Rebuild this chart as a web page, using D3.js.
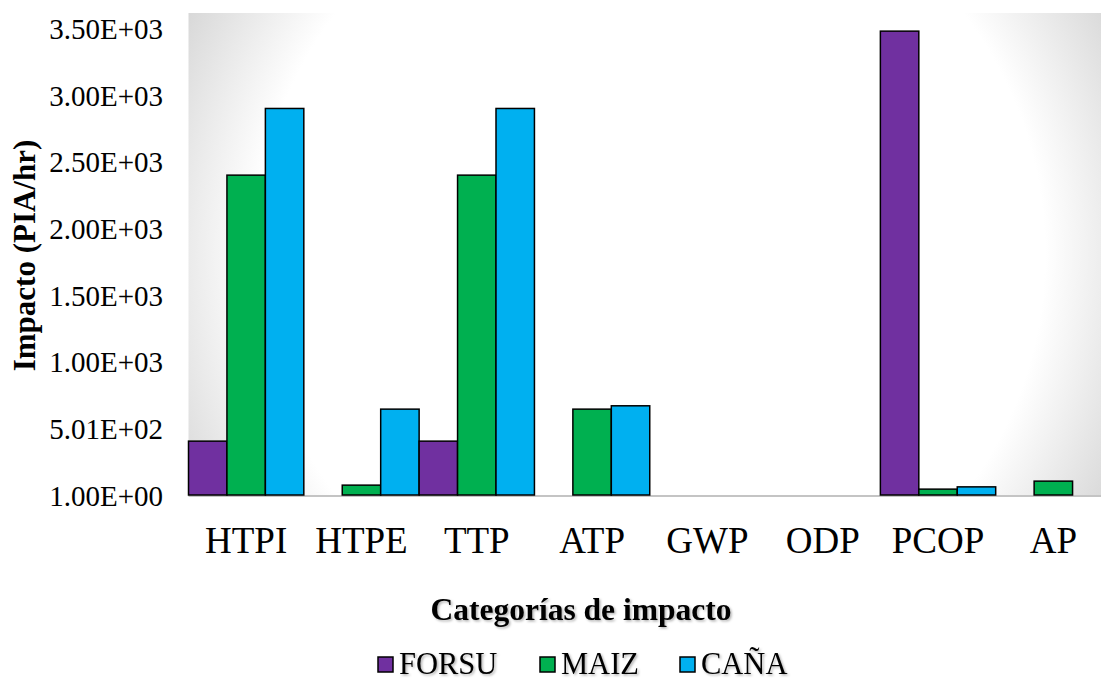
<!DOCTYPE html>
<html>
<head>
<meta charset="utf-8">
<script src="https://cdn.jsdelivr.net/npm/d3@7"></script>
<style>
  html, body { margin: 0; padding: 0; background: #fff; overflow: hidden; }
  svg { display: block; }
  text { font-family: "Liberation Serif", "Times New Roman", serif; fill: #000; }
</style>
</head>
<body>
<svg id="chart" width="1101" height="680"></svg>
<script>
// ---- data ----
const categories = ["HTPI", "HTPE", "TTP", "ATP", "GWP", "ODP", "PCOP", "AP"];
const seriesNames = ["FORSU", "MAIZ", "CAÑA"];
const seriesColors = ["#7030A0", "#00B050", "#00B0F0"];
const forsuValues = [405, 0, 405, 0, 0, 0, 3480, 0];
const maizValues  = [2400, 75, 2400, 645, 0, 0, 45, 105];
const canaValues  = [2900, 645, 2900, 670, 0, 0, 62, 0];
const yTickValues = [1, 501, 1001, 1501, 2001, 2501, 3001, 3501];
const yTickLabels = ["1.00E+00", "5.01E+02", "1.00E+03", "1.50E+03", "2.00E+03", "2.50E+03", "3.00E+03", "3.50E+03"];
const yTitle = "Impacto (PIA/hr)";
const xTitle = "Categorías de impacto";

const seriesValues = [forsuValues, maizValues, canaValues];

// ---- layout ----
const svg = d3.select("#chart");
const plot = { left: 188.5, right: 1111, top: 13, bottom: 495 };

const defs = svg.append("defs");
const grad = defs.append("radialGradient")
  .attr("id", "bg").attr("gradientUnits", "userSpaceOnUse")
  .attr("cx", (plot.left + plot.right) / 2).attr("cy", (plot.top + plot.bottom) / 2)
  .attr("r", 520);
grad.append("stop").attr("offset", 0).attr("stop-color", "#ffffff");
grad.append("stop").attr("offset", 0.76).attr("stop-color", "#ffffff");
grad.append("stop").attr("offset", 1).attr("stop-color", "#d8d8d8");

const shadow = defs.append("filter").attr("id", "shadow")
  .attr("x", "-10%").attr("y", "-20%").attr("width", "130%").attr("height", "160%");
shadow.append("feDropShadow").attr("dx", 1.5).attr("dy", 1.5)
  .attr("stdDeviation", 1).attr("flood-color", "#000").attr("flood-opacity", 0.3);

// plot background
svg.append("rect")
  .attr("x", plot.left).attr("y", plot.top)
  .attr("width", plot.right - plot.left).attr("height", plot.bottom - plot.top)
  .attr("fill", "url(#bg)");

// scales
const x0 = d3.scaleBand().domain(categories).range([plot.left, plot.right]).padding(0);
const x1 = d3.scaleBand().domain(seriesNames).range([0, x0.bandwidth()]).padding(0);
const y = d3.scaleLinear().domain([1, 3616]).range([plot.bottom, plot.top]);

// axis line
svg.append("line")
  .attr("x1", plot.left).attr("x2", plot.right)
  .attr("y1", plot.bottom + 1).attr("y2", plot.bottom + 1)
  .attr("stroke", "#c4c4c4").attr("stroke-width", 2);

// bars
const rows = [];
categories.forEach((c, i) => {
  seriesNames.forEach((s, j) => {
    rows.push({ cat: c, series: s, color: seriesColors[j], value: seriesValues[j][i] });
  });
});
svg.append("g").selectAll("rect")
  .data(rows.filter(d => d.value > 1))
  .join("rect")
  .attr("x", d => x0(d.cat) + x1(d.series))
  .attr("y", d => y(d.value))
  .attr("width", x1.bandwidth())
  .attr("height", d => y(1) - y(d.value))
  .attr("fill", d => d.color)
  .attr("stroke", "#000")
  .attr("stroke-width", 1.5);

// y axis labels
const yAxis = d3.axisLeft(y).tickValues(yTickValues)
  .tickFormat((d, i) => yTickLabels[i]).tickSize(0).tickPadding(0);
const yg = svg.append("g").attr("transform", `translate(163,1)`).call(yAxis);
yg.select(".domain").remove();
yg.selectAll("text")
  .style("font-family", '"Liberation Serif", "Times New Roman", serif')
  .style("font-size", "29px").attr("fill", "#000");

// x axis labels
const xAxis = d3.axisBottom(x0).tickSize(0).tickPadding(0);
const xg = svg.append("g").attr("transform", `translate(0,${plot.bottom})`).call(xAxis);
xg.select(".domain").remove();
xg.selectAll("text")
  .attr("dy", null).attr("y", 58)
  .style("font-family", '"Liberation Serif", "Times New Roman", serif')
  .style("font-size", "37px").attr("fill", "#000");

// y title
svg.append("text")
  .attr("transform", `translate(35,255.5) rotate(-90)`)
  .attr("text-anchor", "middle")
  .style("font-size", "31px").style("font-weight", "bold")
  .text(yTitle);

// x title
svg.append("text")
  .attr("x", 581).attr("y", 620)
  .attr("text-anchor", "middle")
  .style("font-size", "31.5px").style("font-weight", "bold")
  .attr("filter", "url(#shadow)")
  .text(xTitle);

// legend
const legendX = [378, 540, 680];
const lg = svg.append("g");
seriesNames.forEach((s, i) => {
  lg.append("rect")
    .attr("x", legendX[i]).attr("y", 657)
    .attr("width", 15).attr("height", 15)
    .attr("fill", seriesColors[i]).attr("stroke", "#000").attr("stroke-width", 1.5);
  lg.append("text")
    .attr("x", legendX[i] + 21).attr("y", 673.5)
    .style("font-size", "30.5px")
    .attr("filter", "url(#shadow)")
    .text(s);
});
</script>
</body>
</html>
